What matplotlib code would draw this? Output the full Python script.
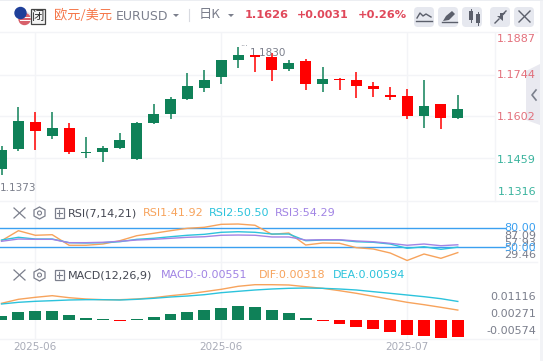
import numpy as np
import matplotlib
matplotlib.use('Agg')
import matplotlib.pyplot as plt
from matplotlib.patches import Circle, FancyBboxPatch, Rectangle, Polygon

plt.rcParams['font.family'] = ['Noto Sans CJK SC', 'DejaVu Sans']

W, H = 543, 361

opens = [1.1423, 1.1491, 1.1582, 1.1535, 1.1562, 1.1477, 1.1480, 1.1494, 1.1457, 1.1579,
         1.1610, 1.1661, 1.1698, 1.17355, 1.1793, 1.1811, 1.18035, 1.1763, 1.1790, 1.1712,
         1.1729, 1.1725, 1.1705, 1.1674, 1.1671, 1.1603, 1.1644, 1.1596]
closes = [1.1487, 1.1586, 1.1552, 1.1562, 1.1480, 1.1480, 1.1494, 1.1521, 1.1579, 1.1610,
          1.1661, 1.1705, 1.1725, 1.1793, 1.1810, 1.18045, 1.1759, 1.1783, 1.1712, 1.1729,
          1.1725, 1.1705, 1.1695, 1.16675, 1.1603, 1.1637, 1.1596, 1.1627]
highs = [1.1501, 1.16335, 1.1617, 1.1617, 1.1579, 1.15315, 1.1501, 1.1545, 1.1582, 1.1644,
         1.16675, 1.1749, 1.1759, 1.1793, 1.18375, 1.1811, 1.1817, 1.1793, 1.1797, 1.17695,
         1.1732, 1.17525, 1.17185, 1.17015, 1.1695, 1.1725, 1.1644, 1.1674]
lows = [1.1402, 1.1484, 1.1487, 1.1525, 1.1474, 1.1460, 1.14465, 1.1491, 1.1453, 1.1576,
        1.1593, 1.1657, 1.16845, 1.1712, 1.1766, 1.17525, 1.1722, 1.1756, 1.1691, 1.16845,
        1.1691, 1.1664, 1.16675, 1.1657, 1.1593, 1.1562, 1.1559, 1.1593]

rsi1 = [60.7, 76.5, 69.3, 70.2, 53.5, 53.5, 55.5, 60.7, 68.6, 72.4, 76.5, 80.3, 81.9, 86.6,
        87.09, 85.1, 70.8, 72.9, 53.9, 57.1, 56.6, 49.7, 47.6, 41.3, 29.46, 39.7, 32.9, 41.92]
rsi2 = [61.8, 66.1, 63.4, 63.4, 57.6, 57.1, 57.6, 59.1, 62.9, 64.5, 67.0, 69.3, 70.8, 74.0,
        74.9, 74.0, 71.3, 71.3, 60.7, 61.8, 61.8, 59.1, 58.2, 55.5, 48.7, 51.2, 47.1, 50.50]
rsi3 = [59.8, 63.4, 62.9, 62.9, 57.6, 57.6, 58.2, 59.8, 61.8, 62.9, 64.5, 66.1, 67.0, 69.3,
        69.7, 69.3, 66.6, 66.6, 61.8, 62.3, 62.3, 60.3, 59.1, 56.6, 53.5, 55.5, 52.8, 54.29]

macd = [.00128, .00256, .00288, .00288, .0016, .00064, .0002, -.0002, .0003, .00096,
        .00192, .00256, .0032, .00384, .00448, .00416, .0032, .00224, .00064, -.00032,
        -.00128, -.00224, -.00288, -.00384, -.0049, -.005, -.00565, -.00551]
dif = [.00534, .00662, .00726, .00778, .00714, .00672, .0065, .0065, .00672, .00714,
       .00778, .00832, .00906, .00982, .01078, .0113, .0113, .0112, .01066, .01014,
       .00938, .00854, .00758, .00662, .00566, .0049, .00406, .00318]
dea = [.00512, .00566, .00598, .00618, .0064, .0065, .0065, .0064, .00662, .00694,
       .00736, .00768, .0081, .00874, .00918, .0096, .00992, .01014, .01024, .01014,
       .00992, .0096, .00906, .00854, .008, .00746, .00682, .00594]

price_ticks = [1.1887, 1.1744, 1.1602, 1.1459, 1.1316]
rsi_levels = [80, 50]
date_idx = [2, 13, 24]
date_labels = ['2025-06', '2025-06', '2025-07']

GREEN = '#0f8158'
RED = '#ff0000'
ORANGE = '#f7a35c'
CYAN = '#2cc3dc'
PURPLE = '#a184e4'
GRID = '#f3f4f7'
GREY = '#7b7f8c'

fig = plt.figure(figsize=(W / 100, H / 100), dpi=100, facecolor='white')


def pane(top, bottom):
    ax = fig.add_axes([0, 1 - bottom / H, 1, (bottom - top) / H])
    ax.set_xlim(-1.5 / 16.9, (W - 1.5) / 16.9)
    ax.axis('off')
    ax.patch.set_alpha(0)
    return ax


x = np.arange(len(opens))
grid_x = (495 - 1.5) / 16.9

# candles
ax1 = pane(33, 201)
ax1.set_ylim(1.1744 - (201 - 74.5) * 0.00034, 1.1744 + (74.5 - 33) * 0.00034)
for p in price_ticks[1:4]:
    ax1.plot([-1, grid_x], [p, p], color=GRID, lw=1, zorder=1)
for i in x:
    c = GREEN if closes[i] >= opens[i] else RED
    ax1.plot([i, i], [lows[i], highs[i]], color=c, lw=1.1, zorder=3, solid_capstyle='butt')
    lo, hi = min(opens[i], closes[i]), max(opens[i], closes[i])
    ax1.bar(i, max(hi - lo, 0.0003), bottom=lo, width=0.65, color=c, zorder=4)
ax1.annotate('···', (14, 1.18375), xytext=(2, 0), textcoords='offset pixels', color=GREY,
             fontsize=6, va='center', ha='left', family='DejaVu Sans')
ax1.annotate('1.1830', (14.7, 1.1830), xytext=(0, -4), textcoords='offset pixels', color=GREY,
             fontsize=7.5, va='center', ha='left', family='DejaVu Sans')
ax1.annotate('1.1373', (-0.08, 1.1373), xytext=(0, -4), textcoords='offset pixels', color=GREY,
             fontsize=7.5, va='center', ha='left', family='DejaVu Sans')

# rsi
ax2 = pane(201, 262)
ax2.set_ylim(80 + (228.5 - 262) * 1.58, 80 + (228.5 - 201) * 1.58)
for lv in rsi_levels:
    ax2.plot([-1, 29.8], [lv, lv], color='#3ba0f0', lw=1, zorder=2)
ax2.plot(x, rsi1, color=ORANGE, lw=1, zorder=3)
ax2.plot(x, rsi2, color=CYAN, lw=1, zorder=3)
ax2.plot(x, rsi3, color=PURPLE, lw=1, zorder=3)

# macd
ax3 = pane(262, 339)
ax3.set_ylim((320 - 339) * 0.00032, (320 - 262) * 0.00032)
ax3.bar(x, macd, width=0.7, color=[GREEN if m >= 0 else RED for m in macd], zorder=2)
ax3.plot(x, dif, color=ORANGE, lw=1, zorder=3)
ax3.plot(x, dea, color=CYAN, lw=1, zorder=3)

# overlay in pixel coordinates for the header and the labels
ov = fig.add_axes([0, 0, 1, 1], zorder=-1)
ov.set_xlim(0, W)
ov.set_ylim(H, 0)
ov.axis('off')
for gx in [35, 221, 407]:
    ov.plot([gx, gx], [33, 339], color=GRID, lw=1)
ov.plot([495, 495], [33, 201], color=GRID, lw=1)
for gy in [201, 262, 339]:
    ov.plot([0, 537], [gy, gy], color=GRID, lw=1)
ov.plot([0, 537], [32, 32], color=GRID, lw=1)

top = fig.add_axes([0, 0, 1, 1], zorder=5)
top.set_xlim(0, W)
top.set_ylim(H, 0)
top.axis('off')
top.add_patch(Rectangle((540, 0), 3, H, color='#f2f3f6', zorder=0, lw=0))
top.add_patch(Rectangle((0, 0), W, 1.2, color='#eceef2', zorder=0, lw=0))

# flags and status box
top.add_patch(Circle((26, 18), 5.5, color='#e8e8ee', zorder=2))
top.add_patch(Circle((24.5, 19), 5.5, color='#d8606a', zorder=2))
top.plot([20, 30], [17, 17], color='white', lw=0.7, zorder=2.5)
top.plot([20, 30], [20, 20], color='white', lw=0.7, zorder=2.5)
top.add_patch(Circle((20.5, 13), 5.5, color='#1f3f99', zorder=3))
top.add_patch(Rectangle((30.5, 9), 14.5, 14.5, fc='#f4f4f4', ec='#444444', lw=0.9, zorder=4))
top.text(37.7, 16, '闭', fontsize=9, ha='center', va='center', color='#333333', zorder=5)

top.text(54, 15, '欧元/美元', color='#f5774a', fontsize=9.5, va='center', ha='left')
top.text(116, 16, 'EURUSD', color=GREY, fontsize=9, va='center', ha='left', family='DejaVu Sans')
top.add_patch(Polygon([[173, 14], [179, 14], [176, 17]], color=GREY, lw=0))
top.plot([189, 189], [9, 21], color='#d8dae0', lw=0.8)
top.text(199, 14.5, '日K', color=GREY, fontsize=9.5, va='center', ha='left')
top.add_patch(Polygon([[228, 14], [234, 14], [231, 17]], color=GREY, lw=0))
top.text(244.5, 14.5, '1.1626', color='#e0485a', fontsize=8.2, fontweight='bold', va='center', ha='left', family='DejaVu Sans')
top.text(297, 14.5, '+0.0031', color='#e0485a', fontsize=8, fontweight='bold', va='center', ha='left', family='DejaVu Sans')
top.text(358, 14.5, '+0.26%', color='#e0485a', fontsize=8.2, fontweight='bold', va='center', ha='left', family='DejaVu Sans')

# toolbar buttons
for bx in [414, 438, 462, 490, 514]:
    top.add_patch(FancyBboxPatch((bx + 2, 9), 16, 16, boxstyle='round,pad=2,rounding_size=4', fc='#e6e8ef', ec='none'))
top.plot([416, 432], [21, 21], color='#5b5f6b', lw=1)
top.plot([417, 420, 423, 426, 431], [18, 13, 16, 14, 17], color='#5b5f6b', lw=1)
top.add_patch(Polygon([[443, 21], [446, 16], [452, 11], [455, 14], [449, 20]], color='#5b5f6b', lw=0))
top.plot([442, 457], [22, 22], color='#5b5f6b', lw=1)
top.add_patch(Rectangle((469, 11), 3.5, 9, color='#5b5f6b', lw=0))
top.add_patch(Rectangle((476, 14), 3.5, 9, color='#5b5f6b', lw=0))
top.plot([470.7, 470.7], [9, 22], color='#5b5f6b', lw=0.7)
top.plot([477.7, 477.7], [12, 25], color='#5b5f6b', lw=0.7)
top.plot([495, 499], [23, 19], color='#5b5f6b', lw=1)
top.add_patch(Polygon([[497, 15.5], [502.5, 15.5], [502.5, 21]], color='#5b5f6b', lw=0))
top.plot([502, 506], [15, 11], color='#5b5f6b', lw=1)
top.add_patch(Polygon([[500, 13], [505.5, 13], [500, 18.5]], color='#5b5f6b', lw=0))
top.plot([519, 530], [11, 22], color='#5b5f6b', lw=1)
top.plot([519, 530], [22, 11], color='#5b5f6b', lw=1)

# collapse tab on the right
top.add_patch(Polygon([[540, 64], [526, 71], [526, 120], [540, 125]], color='#e9e9f0', lw=0))
top.plot([536, 532, 536], [90, 95, 100], color=GREY, lw=1.2)

# price axis labels
price_y = [39, 75, 117, 160, 192]
price_c = ['#e0616e', '#e0616e', '#e0616e', '#25ab93', '#25ab93']
for p, py, c in zip(price_ticks, price_y, price_c):
    top.text(536, py, f'{p:.4f}', color=c, fontsize=8, ha='right', va='center', family='DejaVu Sans', alpha=0.9)

# rsi axis labels, these overlap in the original too
for s, py, c in [('87.09', 236, GREY), ('57.93', 243, GREY), ('29.46', 255, GREY),
                 ('80.00', 228, '#3ba0f0'), ('50.00', 248, '#3ba0f0')]:
    top.text(536, py, s, color=c, fontsize=8, ha='right', va='center', family='DejaVu Sans')

# macd axis labels
for s, py in [('0.01116', 296.5), ('0.00271', 314), ('-0.00574', 331)]:
    top.text(536, py, s, color=GREY, fontsize=8, ha='right', va='center', family='DejaVu Sans')

# date labels
for i, s in zip(date_idx, date_labels):
    top.text(1.5 + 16.9 * i, 347.5, s, color='#a9acb8', fontsize=7.5, ha='center', va='center', family='DejaVu Sans')

# indicator titles
for y0, title, items in [
    (213, 'RSI(7,14,21)', [(143, 'RSI1:41.92', ORANGE), (209, 'RSI2:50.50', CYAN), (275, 'RSI3:54.29', PURPLE)]),
    (275, 'MACD(12,26,9)', [(161, 'MACD:-0.00551', PURPLE), (259, 'DIF:0.00318', ORANGE), (333, 'DEA:0.00594', CYAN)]),
]:
    top.plot([14, 25], [y0 - 5, y0 + 5], color=GREY, lw=0.9)
    top.plot([14, 25], [y0 + 5, y0 - 5], color=GREY, lw=0.9)
    top.add_patch(Polygon([[39.5, y0 - 6], [45, y0 - 3], [45, y0 + 3], [39.5, y0 + 6], [34, y0 + 3], [34, y0 - 3]],
                          fc='white', ec=GREY, lw=0.9))
    top.add_patch(Circle((39.5, y0), 2, fc='white', ec=GREY, lw=0.8))
    top.add_patch(Rectangle((54.5, y0 - 5), 9.5, 10, fc='white', ec=GREY, lw=0.9))
    top.plot([56.5, 62], [y0, y0], color=GREY, lw=0.8)
    top.plot([59.2, 59.2], [y0 - 3, y0 + 3], color=GREY, lw=0.8)
    top.text(68, y0, title, color='#444752', fontsize=8, va='center', ha='left', family='DejaVu Sans')
    for tx, s, c in items:
        top.text(tx, y0, s, color=c, fontsize=8, va='center', ha='left', family='DejaVu Sans')

fig.savefig('out.png', dpi=100)
